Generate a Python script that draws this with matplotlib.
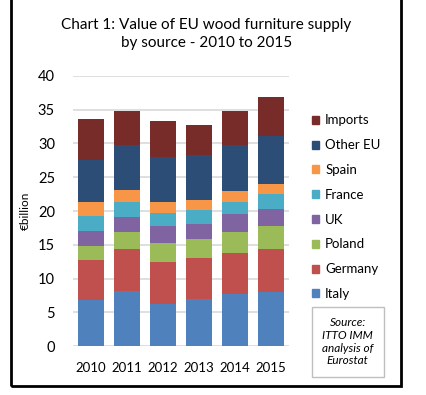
import numpy as np
import matplotlib
matplotlib.use('Agg')
import matplotlib.pyplot as plt
from matplotlib.patches import Rectangle, Patch

plt.rcParams['font.family'] = ['Lato', 'DejaVu Sans']

years = ['2010', '2011', '2012', '2013', '2014', '2015']
sources = ['Italy', 'Germany', 'Poland', 'UK', 'France', 'Spain', 'Other EU', 'Imports']
italy = [6.9, 8.2, 6.3, 7.0, 7.8, 8.1]
germany = [5.8, 6.2, 6.2, 6.1, 6.0, 6.3]
poland = [2.2, 2.5, 2.7, 2.8, 3.1, 3.4]
uk = [2.1, 2.2, 2.65, 2.2, 2.65, 2.5]
france = [2.3, 2.2, 1.85, 2.05, 1.8, 2.2]
spain = [2.0, 1.8, 1.65, 1.45, 1.55, 1.5]
other_eu = [6.3, 6.6, 6.65, 6.65, 6.9, 7.05]
imports = [6.0, 5.15, 5.3, 4.45, 5.0, 5.85]
series = [italy, germany, poland, uk, france, spain, other_eu, imports]
colors = ['#4F81BD', '#C0504D', '#9BBB59', '#8064A2', '#4BACC6', '#F79646', '#2C4D75', '#772C2A']

fig = plt.figure(figsize=(4.27, 3.95), dpi=100)
ax = fig.add_axes([0.171, 0.1233, 0.506, 0.685])

x = np.arange(len(years))
bottom = np.zeros(len(years))
for vals, name, c in zip(series, sources, colors):
    ax.bar(x, vals, width=0.71, bottom=bottom, color=c, label=name, zorder=3)
    bottom += np.array(vals)

ax.set_xlim(-0.5, len(years) - 0.5)
ax.set_ylim(0, 40)
ax.set_yticks(range(0, 41, 5))
ax.set_xticks(x)
ax.set_xticklabels(years)
ax.grid(axis='y', color='#D9D9D9', linewidth=1.2, zorder=0)
for s in ax.spines.values():
    s.set_visible(False)
ax.tick_params(length=0, labelsize=9.5, colors='black')
ax.tick_params(axis='y', labelsize=10.5, pad=13)
ax.tick_params(axis='x', pad=11)
ax.set_ylabel('€billion', fontsize=8.5, labelpad=5)

fig.text(0.483, 0.937, 'Chart 1: Value of EU wood furniture supply', ha='center', va='center', fontsize=11)
fig.text(0.483, 0.891, 'by source - 2010 to 2015', ha='center', va='center', fontsize=11)

# 图例
handles = [Patch(color=c) for c in colors][::-1]
labels = sources[::-1]
fig.legend(handles, labels, loc='upper left', bbox_to_anchor=(0.715, 0.727),
           frameon=False, fontsize=9.5, handlelength=0.55, handleheight=0.55,
           handletextpad=0.45, labelspacing=0.97, borderpad=0)

# 来源框
fig.patches.append(Rectangle((0.730, 0.046), 0.169, 0.177, transform=fig.transFigure,
                             facecolor='white', edgecolor='#BFBFBF', linewidth=1))
fig.text(0.814, 0.135, 'Source:\nITTO IMM\nanalysis of\nEurostat', ha='center', va='center',
         fontsize=8.5, style='italic', linespacing=1.2)

# 外框
fig.patches.append(Rectangle((0.026, 0.023), 0.914, 1.0, transform=fig.transFigure,
                             facecolor='none', edgecolor='black', linewidth=2))

fig.savefig('out.png', dpi=100)
